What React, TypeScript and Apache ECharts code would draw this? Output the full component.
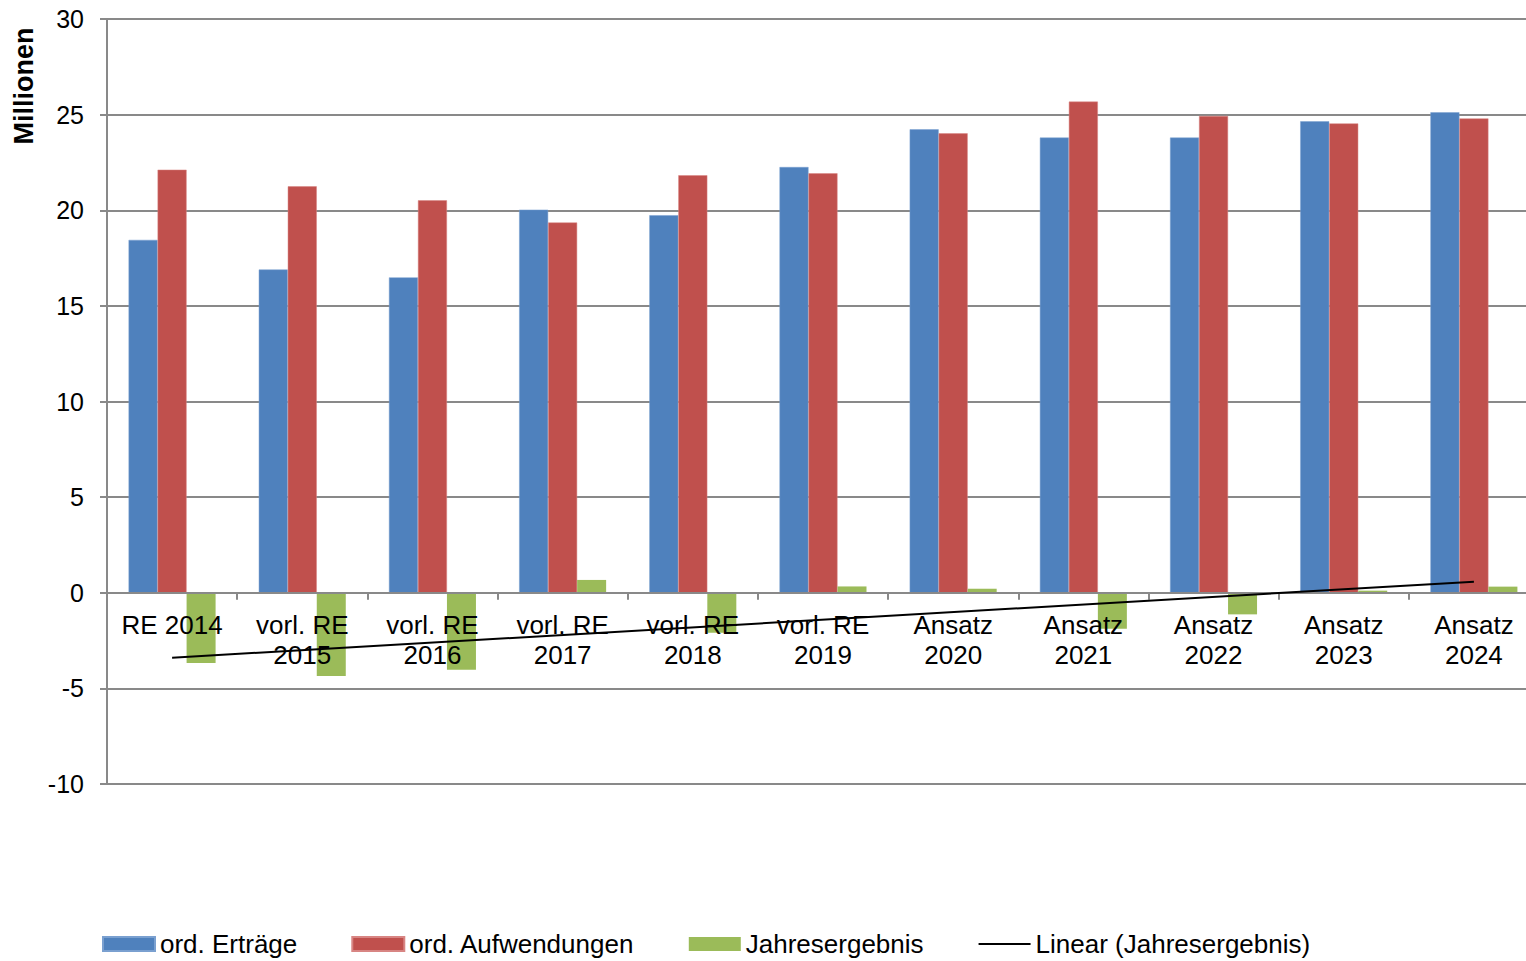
import React, { useEffect, useRef } from "react";
import * as echarts from "echarts";

const categories = [
  "RE 2014",
  "vorl. RE\n2015",
  "vorl. RE\n2016",
  "vorl. RE\n2017",
  "vorl. RE\n2018",
  "vorl. RE\n2019",
  "Ansatz\n2020",
  "Ansatz\n2021",
  "Ansatz\n2022",
  "Ansatz\n2023",
  "Ansatz\n2024",
];

const ertraege = [18.45, 16.9, 16.49, 20.03, 19.74, 22.26, 24.23, 23.8, 23.8, 24.65, 25.12];
const aufwendungen = [22.12, 21.25, 20.52, 19.36, 21.83, 21.93, 24.02, 25.68, 24.93, 24.54, 24.8];
const jahresergebnis = [-3.67, -4.35, -4.03, 0.67, -2.09, 0.33, 0.21, -1.88, -1.13, 0.11, 0.32];
const trendValues: (number | null)[] = [-3.4, null, null, null, null, null, null, null, null, null, 0.58];

const yMin = -10;
const yMax = 30;
const yStep = 5;

const FONT = "Liberation Sans, Arial, sans-serif";
const GRID_COLOR = "#898989";

const GRID_TOP = 19;
const GRID_BOTTOM_PX = 784;
const HEIGHT = 961;
// the plot area runs past the right edge of the picture
const CANVAS_WIDTH = 1539;

export default function App() {
  const ref = useRef<HTMLDivElement>(null);

  useEffect(() => {
    if (!ref.current) return;
    const chart = echarts.init(ref.current, undefined, { renderer: "svg" });
    // position of the zero line relative to the grid bottom
    const zeroOffset = -((GRID_BOTTOM_PX - GRID_TOP) * (0 - yMin)) / (yMax - yMin);
    chart.setOption({
      animation: false,
      backgroundColor: "#ffffff",
      textStyle: { fontFamily: FONT },
      grid: { left: 107, right: 0, top: GRID_TOP, bottom: HEIGHT - GRID_BOTTOM_PX, containLabel: false },
      graphic: [
        {
          type: "text",
          x: 24,
          y: 86,
          rotation: Math.PI / 2,
          style: {
            text: "Millionen",
            fontFamily: FONT,
            fontSize: 27,
            fontWeight: "bold",
            fill: "#000",
            align: "center",
            verticalAlign: "middle",
          },
        },
      ],
      legend: {
        left: 102,
        top: 931,
        padding: 0,
        itemWidth: 52,
        itemHeight: 14,
        itemGap: 54,
        textStyle: { fontFamily: FONT, fontSize: 26, color: "#000" },
        data: [
          { name: "ord. Erträge", icon: "rect" },
          { name: "ord. Aufwendungen", icon: "rect" },
          { name: "Jahresergebnis", icon: "rect" },
          {
            name: "Linear (Jahresergebnis)",
            icon: "line",
            itemStyle: { color: "#000", borderColor: "#000", borderWidth: 2 },
          },
        ],
      },
      xAxis: {
        type: "category",
        data: categories,
        z: 3,
        position: "bottom",
        offset: zeroOffset,
        axisLine: { onZero: false, lineStyle: { color: GRID_COLOR, width: 2 } },
        axisTick: { show: true, length: 7, lineStyle: { color: GRID_COLOR, width: 2 } },
        axisLabel: {
          interval: 0,
          margin: 17,
          fontFamily: FONT,
          fontSize: 26,
          color: "#000",
          lineHeight: 30,
        },
        splitLine: { show: false },
      },
      yAxis: {
        type: "value",
        min: yMin,
        max: yMax,
        interval: yStep,
        axisLine: { show: true, lineStyle: { color: GRID_COLOR, width: 2 } },
        axisTick: { show: true, length: 7, lineStyle: { color: GRID_COLOR, width: 2 } },
        axisLabel: { margin: 23, fontFamily: FONT, fontSize: 25, color: "#000" },
        splitLine: { show: true, lineStyle: { color: GRID_COLOR, width: 2 } },
      },
      series: [
        {
          name: "ord. Erträge",
          type: "bar",
          data: ertraege,
          barWidth: 29,
          barGap: "0%",
          itemStyle: { color: "#4F81BD", borderColor: "#7aa0d0", borderWidth: 0.5 },
        },
        {
          name: "ord. Aufwendungen",
          type: "bar",
          data: aufwendungen,
          barWidth: 29,
          barGap: "0%",
          itemStyle: { color: "#C0504D", borderColor: "#d88583", borderWidth: 0.5 },
        },
        {
          name: "Jahresergebnis",
          type: "bar",
          data: jahresergebnis,
          barWidth: 29,
          barGap: "0%",
          itemStyle: { color: "#9BBB59" },
        },
        {
          name: "Linear (Jahresergebnis)",
          type: "line",
          data: trendValues,
          connectNulls: true,
          symbol: "none",
          z: 5,
          lineStyle: { color: "#000", width: 2 },
          itemStyle: { color: "#000" },
        },
      ],
    });
    return () => chart.dispose();
  }, []);

  return (
    <div style={{ position: "fixed", left: 0, top: 0, width: 1526, height: HEIGHT, overflow: "hidden" }}>
      <div ref={ref} style={{ width: CANVAS_WIDTH, height: HEIGHT }} />
    </div>
  );
}
